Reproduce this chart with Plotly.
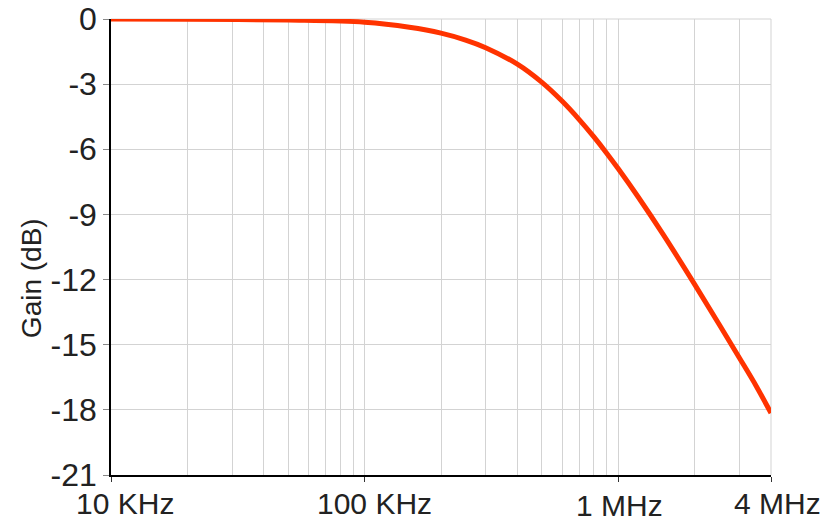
import plotly.graph_objects as go
import math

# Data
freq_hz = [1e4, 2e4, 5e4, 1e5, 1.5e5, 2e5, 2.5e5, 3e5, 4e5, 5e5, 6e5, 7e5, 8e5,
           9e5, 1e6, 1.2e6, 1.5e6, 2e6, 2.5e6, 3e6, 3.5e6, 4e6]
gain_db = [0.0, -0.01, -0.05, -0.15, -0.38, -0.65, -0.97, -1.32, -2.08, -2.92, -3.78,
           -4.62, -5.42, -6.18, -6.9, -8.21, -9.91, -12.22, -14.07, -15.6, -16.91, -18.15]

x_tick_vals = [1e4, 1e5, 1e6, 4e6]
x_tick_text = ["10 KHz", "100 KHz", "1 MHz", "4 MHz"]
x_label_shift = [14, 10, 1, 6]
x_label_drop = [0, 0, 2, 0]
y_tick_vals = [0, -3, -6, -9, -12, -15, -18, -21]
y_tick_text = ["0", "-3", "-6", "-9", "-12", "-15", "-18", "-21"]

FONT = "Liberation Sans, Arial, sans-serif"
TXT = "#222222"
GRID = "#d3d3d3"

fig = go.Figure()
fig.add_trace(go.Scatter(
    x=freq_hz, y=gain_db, mode="lines",
    line=dict(color="#ff3300", width=5, shape="spline", smoothing=1.0),
    hoverinfo="x+y", showlegend=False,
))

annotations = []
for v, t, s, d in zip(x_tick_vals, x_tick_text, x_label_shift, x_label_drop):
    annotations.append(dict(
        x=math.log10(v), xref="x", y=0, yref="paper", yanchor="top", xanchor="center",
        text=t, showarrow=False, xshift=s, yshift=-10 - d,
        font=dict(family=FONT, size=30, color=TXT),
    ))
annotations.append(dict(
    x=-0.121, xref="paper", y=0.432, yref="paper", text="Gain (dB)", textangle=-90,
    showarrow=False, xanchor="center", yanchor="middle",
    font=dict(family=FONT, size=28, color=TXT),
))

# The page body adds an 8px offset, so the figure is 8px smaller and margins compensate
fig.update_layout(
    width=829, height=513,
    margin=dict(l=103, r=66, t=11, b=46, autoexpand=False),
    paper_bgcolor="white", plot_bgcolor="white",
    font=dict(family=FONT, size=27, color=TXT),
    annotations=annotations,
    xaxis=dict(
        type="log", range=[4, math.log10(4e6)], automargin=False,
        tickvals=x_tick_vals, ticktext=[""] * len(x_tick_vals),
        showgrid=True, gridcolor=GRID, gridwidth=1,
        showline=True, linecolor="black", linewidth=1.5,
        ticks="outside", ticklen=5, tickcolor="#333333", tickwidth=1,
        minor=dict(dtick="D1", showgrid=True, gridcolor=GRID, gridwidth=1, ticks=""),
        zeroline=False, fixedrange=True,
    ),
    yaxis=dict(
        range=[-21, 0], tickvals=y_tick_vals, ticktext=y_tick_text, automargin=False,
        ticklabeloverflow="allow",
        showgrid=True, gridcolor=GRID, gridwidth=1,
        showline=True, linecolor="black", linewidth=1.5,
        ticks="outside", ticklen=6, tickcolor="#888888", tickwidth=1,
        tickfont=dict(family=FONT, size=32, color=TXT),
        zeroline=False, fixedrange=True,
    ),
)
# top and right borders drawn in grid colour
fig.add_shape(type="line", xref="paper", yref="paper", x0=0, x1=1, y0=1, y1=1,
              line=dict(color=GRID, width=1), layer="below")
fig.add_shape(type="line", xref="paper", yref="paper", x0=1, x1=1, y0=0, y1=1,
              line=dict(color=GRID, width=1), layer="below")

fig.write_html("out.html")
